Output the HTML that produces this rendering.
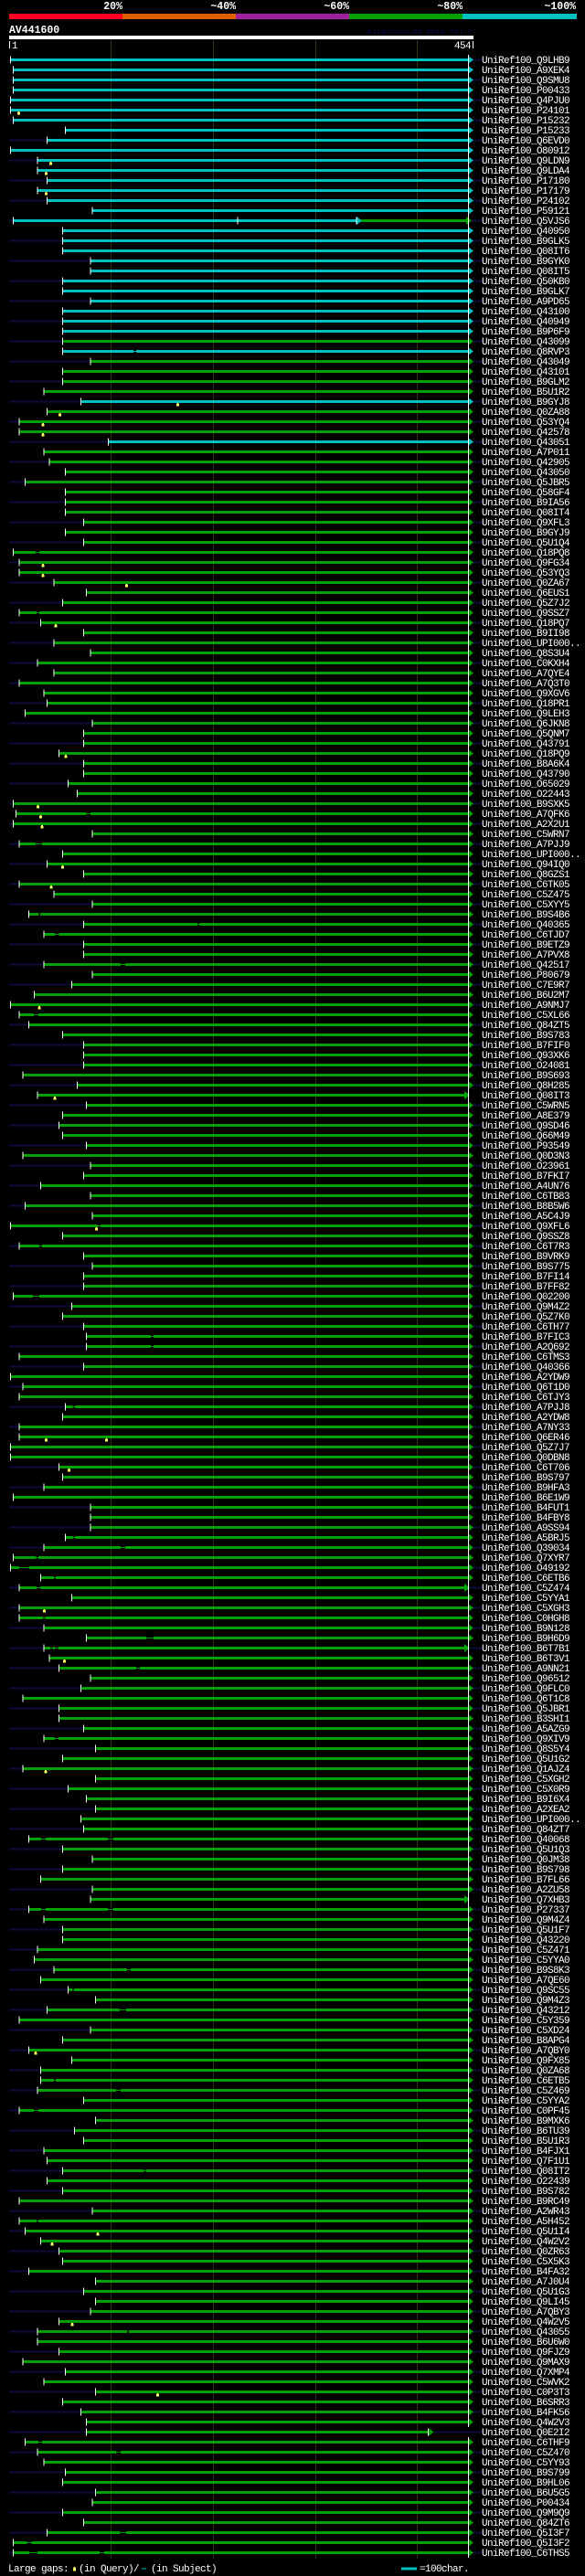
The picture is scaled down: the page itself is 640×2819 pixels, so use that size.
<!DOCTYPE html>
<html><head><meta charset="utf-8"><style>
html,body{margin:0;padding:0;background:#000;}
body{width:640px;height:2819px;overflow:hidden;}
svg{display:block;}
.c{fill:#00c0c0}.g{fill:#00a000}
.hd{font-family:"Liberation Mono",monospace;font-weight:bold;font-size:11.5px;fill:#fff}
.lb text{font-family:"Liberation Mono",monospace;font-size:11px;letter-spacing:-0.6px;fill:#fff}
.sm{font-family:"Liberation Mono",monospace;font-size:11px;letter-spacing:-0.6px;fill:#fff}
</style></head><body>
<svg width="640" height="2819" viewBox="0 0 640 2819" xmlns="http://www.w3.org/2000/svg">
<defs>
<rect id="t" x="-0.5" y="-4" width="1" height="8" fill="#fff"/>
<polygon id="ag" points="512,-4.5 518,0 512,4.5" fill="#00a000"/>
<polygon id="ac" points="512,-4.5 518,0 512,4.5" fill="#00c0c0"/>
<polygon id="as" points="508,-4.5 514,0 508,4.5" fill="#00a000"/>
<path id="y" d="M-1,2.5h3v2.5h-3zM-0.5,1.5h2v1h-2z" fill="#ffff66"/>
<pattern id="nvp" x="0" y="64.5" width="640" height="22" patternUnits="userSpaceOnUse"><rect x="0" y="0" width="640" height="2" fill="#0b0b3a"/></pattern>
</defs>
<rect width="640" height="2819" fill="#000"/>
<!-- header -->
<text class="hd" x="134" y="10" text-anchor="end">20%</text>
<text class="hd" x="258" y="10" text-anchor="end">~40%</text>
<text class="hd" x="382" y="10" text-anchor="end">~60%</text>
<text class="hd" x="506" y="10" text-anchor="end">~80%</text>
<text class="hd" x="630" y="10" text-anchor="end">~100%</text>
<rect x="10" y="15" width="124" height="6" fill="#ff0022"/>
<rect x="134" y="15" width="124" height="6" fill="#e06000"/>
<rect x="258" y="15" width="124" height="6" fill="#a020a0"/>
<rect x="382" y="15" width="124" height="6" fill="#00a000"/>
<rect x="506" y="15" width="125" height="6" fill="#00c0c0"/>
<text class="hd" x="10" y="36">AV441600</text>
<text x="402" y="37" font-family="Liberation Mono, monospace" font-size="8.3" fill="#0a0a48">AlignView.pm Beta rel.7</text>
<rect x="10" y="39" width="508" height="4" fill="#fff"/>
<rect x="10" y="45" width="1" height="8" fill="#fff"/>
<text class="sm" x="13" y="53">1</text>
<text class="sm" x="515" y="53" text-anchor="end">454</text>
<rect x="517" y="45" width="1" height="8" fill="#fff"/>
<!-- grid -->
<rect x="121" y="44" width="1" height="2756" fill="#33331a"/>
<rect x="233" y="44" width="1" height="2756" fill="#33331a"/>
<rect x="345" y="44" width="1" height="2756" fill="#33331a"/>
<rect x="456" y="44" width="1" height="2756" fill="#33331a"/>
<!-- navy stripes -->
<rect x="10" y="64.5" width="517" height="2732" fill="url(#nvp)"/>
<g class="lb">
<g transform="translate(0,65.5)"><path class="c" d="M11.5-1.5H512v3H11.5z"/><use href="#t" x="11.5"/><use href="#ac"/><text x="527" y="3.5">UniRef100_Q9LHB9</text></g>
<g transform="translate(0,76.5)"><path class="c" d="M14.5-1.5H512v3H14.5z"/><use href="#t" x="14.5"/><use href="#ac"/><text x="527" y="3.5">UniRef100_A9XEK4</text></g>
<g transform="translate(0,87.5)"><path class="c" d="M14.5-1.5H512v3H14.5z"/><use href="#t" x="14.5"/><use href="#ac"/><text x="527" y="3.5">UniRef100_Q9SMU8</text></g>
<g transform="translate(0,98.5)"><path class="c" d="M14.5-1.5H512v3H14.5z"/><use href="#t" x="14.5"/><use href="#ac"/><text x="527" y="3.5">UniRef100_P00433</text></g>
<g transform="translate(0,109.5)"><path class="c" d="M11.5-1.5H512v3H11.5z"/><use href="#t" x="11.5"/><use href="#ac"/><text x="527" y="3.5">UniRef100_Q4PJU0</text></g>
<g transform="translate(0,120.5)"><path class="c" d="M11.5-1.5H512v3H11.5z"/><use href="#t" x="11.5"/><use href="#ac"/><use href="#y" x="20"/><text x="527" y="3.5">UniRef100_P24101</text></g>
<g transform="translate(0,131.5)"><path class="c" d="M14.5-1.5H512v3H14.5z"/><use href="#t" x="14.5"/><use href="#ac"/><text x="527" y="3.5">UniRef100_P15232</text></g>
<g transform="translate(0,142.5)"><path class="c" d="M71.5-1.5H512v3H71.5z"/><use href="#t" x="71.5"/><use href="#ac"/><text x="527" y="3.5">UniRef100_P15233</text></g>
<g transform="translate(0,153.5)"><path class="c" d="M51.5-1.5H512v3H51.5z"/><use href="#t" x="51.5"/><use href="#ac"/><text x="527" y="3.5">UniRef100_Q6EVD0</text></g>
<g transform="translate(0,164.5)"><path class="c" d="M11.5-1.5H512v3H11.5z"/><use href="#t" x="11.5"/><use href="#ac"/><text x="527" y="3.5">UniRef100_O80912</text></g>
<g transform="translate(0,175.5)"><path class="c" d="M41-1.5H512v3H41z"/><use href="#t" x="41"/><use href="#ac"/><use href="#y" x="55"/><text x="527" y="3.5">UniRef100_Q9LDN9</text></g>
<g transform="translate(0,186.5)"><path class="c" d="M41-1.5H512v3H41z"/><use href="#t" x="41"/><use href="#ac"/><use href="#y" x="50"/><text x="527" y="3.5">UniRef100_Q9LDA4</text></g>
<g transform="translate(0,197.5)"><path class="c" d="M51.5-1.5H512v3H51.5z"/><use href="#t" x="51.5"/><use href="#ac"/><text x="527" y="3.5">UniRef100_P17180</text></g>
<g transform="translate(0,208.5)"><path class="c" d="M41-1.5H512v3H41z"/><use href="#t" x="41"/><use href="#ac"/><use href="#y" x="50"/><text x="527" y="3.5">UniRef100_P17179</text></g>
<g transform="translate(0,219.5)"><path class="c" d="M51.5-1.5H512v3H51.5z"/><use href="#t" x="51.5"/><use href="#ac"/><text x="527" y="3.5">UniRef100_P24102</text></g>
<g transform="translate(0,230.5)"><path class="c" d="M101-1.5H512v3H101z"/><use href="#t" x="101"/><use href="#ac"/><text x="527" y="3.5">UniRef100_P59121</text></g>
<g transform="translate(0,241.5)"><path class="c" d="M14.5-1.5H390v3H14.5z"/><path class="g" d="M395-1.5H510v3H395z"/><use href="#t" x="14.5"/><use href="#t" x="260"/><polygon points="390,-4.5 396,0 390,4.5" fill="#00c0c0"/><use href="#t" x="390"/><polygon points="510,-4.5 516,0 510,4.5" fill="#00a000"/><text x="527" y="3.5">UniRef100_Q5VJS6</text></g>
<g transform="translate(0,252.5)"><path class="c" d="M68.5-1.5H512v3H68.5z"/><use href="#t" x="68.5"/><use href="#ac"/><text x="527" y="3.5">UniRef100_Q40950</text></g>
<g transform="translate(0,263.5)"><path class="c" d="M68.5-1.5H512v3H68.5z"/><use href="#t" x="68.5"/><use href="#ac"/><text x="527" y="3.5">UniRef100_B9GLK5</text></g>
<g transform="translate(0,274.5)"><path class="c" d="M68.5-1.5H512v3H68.5z"/><use href="#t" x="68.5"/><use href="#ac"/><text x="527" y="3.5">UniRef100_Q08IT6</text></g>
<g transform="translate(0,285.5)"><path class="c" d="M99-1.5H512v3H99z"/><use href="#t" x="99"/><use href="#ac"/><text x="527" y="3.5">UniRef100_B9GYK0</text></g>
<g transform="translate(0,296.5)"><path class="c" d="M99-1.5H512v3H99z"/><use href="#t" x="99"/><use href="#ac"/><text x="527" y="3.5">UniRef100_Q08IT5</text></g>
<g transform="translate(0,307.5)"><path class="c" d="M68.5-1.5H512v3H68.5z"/><use href="#t" x="68.5"/><use href="#ac"/><text x="527" y="3.5">UniRef100_Q50KB0</text></g>
<g transform="translate(0,318.5)"><path class="c" d="M68.5-1.5H512v3H68.5z"/><use href="#t" x="68.5"/><use href="#ac"/><text x="527" y="3.5">UniRef100_B9GLK7</text></g>
<g transform="translate(0,329.5)"><path class="c" d="M99-1.5H512v3H99z"/><use href="#t" x="99"/><use href="#ac"/><text x="527" y="3.5">UniRef100_A9PD65</text></g>
<g transform="translate(0,340.5)"><path class="c" d="M68.5-1.5H512v3H68.5z"/><use href="#t" x="68.5"/><use href="#ac"/><text x="527" y="3.5">UniRef100_Q43100</text></g>
<g transform="translate(0,351.5)"><path class="c" d="M68.5-1.5H512v3H68.5z"/><use href="#t" x="68.5"/><use href="#ac"/><text x="527" y="3.5">UniRef100_Q40949</text></g>
<g transform="translate(0,362.5)"><path class="c" d="M68.5-1.5H512v3H68.5z"/><use href="#t" x="68.5"/><use href="#ac"/><text x="527" y="3.5">UniRef100_B9P6F9</text></g>
<g transform="translate(0,373.5)"><path class="g" d="M68.5-1.5H512v3H68.5z"/><use href="#t" x="68.5"/><use href="#ag"/><text x="527" y="3.5">UniRef100_Q43099</text></g>
<g transform="translate(0,384.5)"><path class="c" d="M68.5-1.5H512v3H68.5z"/><rect x="146" y="-1.5" width="3" height="3"/><rect class="c" x="146" y="-0.5" width="3" height="1"/><use href="#t" x="68.5"/><use href="#ac"/><text x="527" y="3.5">UniRef100_Q8RVP3</text></g>
<g transform="translate(0,395.5)"><path class="g" d="M99-1.5H512v3H99z"/><use href="#t" x="99"/><use href="#ag"/><text x="527" y="3.5">UniRef100_Q43049</text></g>
<g transform="translate(0,406.5)"><path class="g" d="M68.5-1.5H512v3H68.5z"/><use href="#t" x="68.5"/><use href="#ag"/><text x="527" y="3.5">UniRef100_Q43101</text></g>
<g transform="translate(0,417.5)"><path class="g" d="M68.5-1.5H512v3H68.5z"/><use href="#t" x="68.5"/><use href="#ag"/><text x="527" y="3.5">UniRef100_B9GLM2</text></g>
<g transform="translate(0,428.5)"><path class="g" d="M48-1.5H512v3H48z"/><use href="#t" x="48"/><use href="#ag"/><text x="527" y="3.5">UniRef100_B5U1R2</text></g>
<g transform="translate(0,439.5)"><path class="c" d="M88.5-1.5H512v3H88.5z"/><use href="#t" x="88.5"/><use href="#ac"/><use href="#y" x="194"/><text x="527" y="3.5">UniRef100_B9GYJ8</text></g>
<g transform="translate(0,450.5)"><path class="g" d="M51.5-1.5H512v3H51.5z"/><use href="#t" x="51.5"/><use href="#ag"/><use href="#y" x="65"/><text x="527" y="3.5">UniRef100_Q0ZA88</text></g>
<g transform="translate(0,461.5)"><path class="g" d="M21-1.5H512v3H21z"/><use href="#t" x="21"/><use href="#ag"/><use href="#y" x="46.5"/><text x="527" y="3.5">UniRef100_Q53YQ4</text></g>
<g transform="translate(0,472.5)"><path class="g" d="M21-1.5H512v3H21z"/><use href="#t" x="21"/><use href="#ag"/><use href="#y" x="46.5"/><text x="527" y="3.5">UniRef100_Q42578</text></g>
<g transform="translate(0,483.5)"><path class="c" d="M118.5-1.5H512v3H118.5z"/><use href="#t" x="118.5"/><use href="#ac"/><text x="527" y="3.5">UniRef100_Q43051</text></g>
<g transform="translate(0,494.5)"><path class="g" d="M48-1.5H512v3H48z"/><use href="#t" x="48"/><use href="#ag"/><text x="527" y="3.5">UniRef100_A7P011</text></g>
<g transform="translate(0,505.5)"><path class="g" d="M54-1.5H512v3H54z"/><use href="#t" x="54"/><use href="#ag"/><text x="527" y="3.5">UniRef100_Q42905</text></g>
<g transform="translate(0,516.5)"><path class="g" d="M71.5-1.5H512v3H71.5z"/><use href="#t" x="71.5"/><use href="#ag"/><text x="527" y="3.5">UniRef100_Q43050</text></g>
<g transform="translate(0,527.5)"><path class="g" d="M27.5-1.5H512v3H27.5z"/><use href="#t" x="27.5"/><use href="#ag"/><text x="527" y="3.5">UniRef100_Q5JBR5</text></g>
<g transform="translate(0,538.5)"><path class="g" d="M71.5-1.5H512v3H71.5z"/><use href="#t" x="71.5"/><use href="#ag"/><text x="527" y="3.5">UniRef100_Q58GF4</text></g>
<g transform="translate(0,549.5)"><path class="g" d="M71.5-1.5H512v3H71.5z"/><use href="#t" x="71.5"/><use href="#ag"/><text x="527" y="3.5">UniRef100_B9IA56</text></g>
<g transform="translate(0,560.5)"><path class="g" d="M71.5-1.5H512v3H71.5z"/><use href="#t" x="71.5"/><use href="#ag"/><text x="527" y="3.5">UniRef100_Q08IT4</text></g>
<g transform="translate(0,571.5)"><path class="g" d="M91.5-1.5H512v3H91.5z"/><use href="#t" x="91.5"/><use href="#ag"/><text x="527" y="3.5">UniRef100_Q9XFL3</text></g>
<g transform="translate(0,582.5)"><path class="g" d="M71.5-1.5H512v3H71.5z"/><use href="#t" x="71.5"/><use href="#ag"/><text x="527" y="3.5">UniRef100_B9GYJ9</text></g>
<g transform="translate(0,593.5)"><path class="g" d="M91.5-1.5H512v3H91.5z"/><use href="#t" x="91.5"/><use href="#ag"/><text x="527" y="3.5">UniRef100_Q5U1Q4</text></g>
<g transform="translate(0,604.5)"><path class="g" d="M14.5-1.5H512v3H14.5z"/><rect x="39" y="-1.5" width="4" height="3"/><rect class="g" x="39" y="-0.5" width="4" height="1"/><use href="#t" x="14.5"/><use href="#ag"/><text x="527" y="3.5">UniRef100_Q18PQ8</text></g>
<g transform="translate(0,615.5)"><path class="g" d="M21-1.5H512v3H21z"/><use href="#t" x="21"/><use href="#ag"/><use href="#y" x="46.5"/><text x="527" y="3.5">UniRef100_Q9FG34</text></g>
<g transform="translate(0,626.5)"><path class="g" d="M21-1.5H512v3H21z"/><use href="#t" x="21"/><use href="#ag"/><use href="#y" x="46.5"/><text x="527" y="3.5">UniRef100_Q53YQ3</text></g>
<g transform="translate(0,637.5)"><path class="g" d="M59-1.5H512v3H59z"/><use href="#t" x="59"/><use href="#ag"/><use href="#y" x="138"/><text x="527" y="3.5">UniRef100_Q0ZA67</text></g>
<g transform="translate(0,648.5)"><path class="g" d="M94.5-1.5H512v3H94.5z"/><use href="#t" x="94.5"/><use href="#ag"/><text x="527" y="3.5">UniRef100_Q6EUS1</text></g>
<g transform="translate(0,659.5)"><path class="g" d="M68.5-1.5H512v3H68.5z"/><use href="#t" x="68.5"/><use href="#ag"/><text x="527" y="3.5">UniRef100_Q5Z7J2</text></g>
<g transform="translate(0,670.5)"><path class="g" d="M21-1.5H512v3H21z"/><rect x="40" y="-1.5" width="3" height="3"/><rect class="g" x="40" y="-0.5" width="3" height="1"/><use href="#t" x="21"/><use href="#ag"/><text x="527" y="3.5">UniRef100_Q9SSZ7</text></g>
<g transform="translate(0,681.5)"><path class="g" d="M44.5-1.5H512v3H44.5z"/><use href="#t" x="44.5"/><use href="#ag"/><use href="#y" x="60.5"/><text x="527" y="3.5">UniRef100_Q18PQ7</text></g>
<g transform="translate(0,692.5)"><path class="g" d="M91.5-1.5H512v3H91.5z"/><use href="#t" x="91.5"/><use href="#ag"/><text x="527" y="3.5">UniRef100_B9II98</text></g>
<g transform="translate(0,703.5)"><path class="g" d="M59-1.5H512v3H59z"/><use href="#t" x="59"/><use href="#ag"/><text x="527" y="3.5">UniRef100_UPI000..</text></g>
<g transform="translate(0,714.5)"><path class="g" d="M99-1.5H512v3H99z"/><use href="#t" x="99"/><use href="#ag"/><text x="527" y="3.5">UniRef100_Q8S3U4</text></g>
<g transform="translate(0,725.5)"><path class="g" d="M41-1.5H512v3H41z"/><use href="#t" x="41"/><use href="#ag"/><text x="527" y="3.5">UniRef100_C0KXH4</text></g>
<g transform="translate(0,736.5)"><path class="g" d="M59-1.5H512v3H59z"/><use href="#t" x="59"/><use href="#ag"/><text x="527" y="3.5">UniRef100_A7QYE4</text></g>
<g transform="translate(0,747.5)"><path class="g" d="M21-1.5H512v3H21z"/><use href="#t" x="21"/><use href="#ag"/><text x="527" y="3.5">UniRef100_A7Q3T0</text></g>
<g transform="translate(0,758.5)"><path class="g" d="M48-1.5H512v3H48z"/><use href="#t" x="48"/><use href="#ag"/><text x="527" y="3.5">UniRef100_Q9XGV6</text></g>
<g transform="translate(0,769.5)"><path class="g" d="M51.5-1.5H512v3H51.5z"/><use href="#t" x="51.5"/><use href="#ag"/><text x="527" y="3.5">UniRef100_Q18PR1</text></g>
<g transform="translate(0,780.5)"><path class="g" d="M27.5-1.5H512v3H27.5z"/><use href="#t" x="27.5"/><use href="#ag"/><text x="527" y="3.5">UniRef100_Q9LEH3</text></g>
<g transform="translate(0,791.5)"><path class="g" d="M101-1.5H512v3H101z"/><use href="#t" x="101"/><use href="#ag"/><text x="527" y="3.5">UniRef100_Q6JKN8</text></g>
<g transform="translate(0,802.5)"><path class="g" d="M91.5-1.5H512v3H91.5z"/><use href="#t" x="91.5"/><use href="#ag"/><text x="527" y="3.5">UniRef100_Q5QNM7</text></g>
<g transform="translate(0,813.5)"><path class="g" d="M91.5-1.5H512v3H91.5z"/><use href="#t" x="91.5"/><use href="#ag"/><text x="527" y="3.5">UniRef100_Q43791</text></g>
<g transform="translate(0,824.5)"><path class="g" d="M64.5-1.5H512v3H64.5z"/><use href="#t" x="64.5"/><use href="#ag"/><use href="#y" x="71.5"/><text x="527" y="3.5">UniRef100_Q18PQ9</text></g>
<g transform="translate(0,835.5)"><path class="g" d="M91.5-1.5H512v3H91.5z"/><use href="#t" x="91.5"/><use href="#ag"/><text x="527" y="3.5">UniRef100_B8A6K4</text></g>
<g transform="translate(0,846.5)"><path class="g" d="M91.5-1.5H512v3H91.5z"/><use href="#t" x="91.5"/><use href="#ag"/><text x="527" y="3.5">UniRef100_Q43790</text></g>
<g transform="translate(0,857.5)"><path class="g" d="M74.5-1.5H512v3H74.5z"/><use href="#t" x="74.5"/><use href="#ag"/><text x="527" y="3.5">UniRef100_O65029</text></g>
<g transform="translate(0,868.5)"><path class="g" d="M84.5-1.5H512v3H84.5z"/><use href="#t" x="84.5"/><use href="#ag"/><text x="527" y="3.5">UniRef100_O22443</text></g>
<g transform="translate(0,879.5)"><path class="g" d="M14.5-1.5H512v3H14.5z"/><use href="#t" x="14.5"/><use href="#ag"/><use href="#y" x="41"/><text x="527" y="3.5">UniRef100_B9SXK5</text></g>
<g transform="translate(0,890.5)"><path class="g" d="M17.5-1.5H512v3H17.5z"/><rect x="94.5" y="-1.5" width="4.5" height="3"/><rect class="g" x="94.5" y="-0.5" width="4.5" height="1"/><use href="#t" x="17.5"/><use href="#ag"/><use href="#y" x="44"/><text x="527" y="3.5">UniRef100_A7QFK6</text></g>
<g transform="translate(0,901.5)"><path class="g" d="M14.5-1.5H512v3H14.5z"/><use href="#t" x="14.5"/><use href="#ag"/><use href="#y" x="45.5"/><text x="527" y="3.5">UniRef100_A2X2U1</text></g>
<g transform="translate(0,912.5)"><path class="g" d="M101-1.5H512v3H101z"/><use href="#t" x="101"/><use href="#ag"/><text x="527" y="3.5">UniRef100_C5WRN7</text></g>
<g transform="translate(0,923.5)"><path class="g" d="M21-1.5H512v3H21z"/><rect x="39" y="-1.5" width="7" height="3"/><rect class="g" x="39" y="-0.5" width="7" height="1"/><use href="#t" x="21"/><use href="#ag"/><text x="527" y="3.5">UniRef100_A7PJJ9</text></g>
<g transform="translate(0,934.5)"><path class="g" d="M68.5-1.5H512v3H68.5z"/><use href="#t" x="68.5"/><use href="#ag"/><text x="527" y="3.5">UniRef100_UPI000..</text></g>
<g transform="translate(0,945.5)"><path class="g" d="M51.5-1.5H512v3H51.5z"/><use href="#t" x="51.5"/><use href="#ag"/><use href="#y" x="68"/><text x="527" y="3.5">UniRef100_Q94IQ0</text></g>
<g transform="translate(0,956.5)"><path class="g" d="M91.5-1.5H512v3H91.5z"/><use href="#t" x="91.5"/><use href="#ag"/><text x="527" y="3.5">UniRef100_Q8GZS1</text></g>
<g transform="translate(0,967.5)"><path class="g" d="M21-1.5H512v3H21z"/><use href="#t" x="21"/><use href="#ag"/><use href="#y" x="55.5"/><text x="527" y="3.5">UniRef100_C6TK05</text></g>
<g transform="translate(0,978.5)"><path class="g" d="M59-1.5H512v3H59z"/><use href="#t" x="59"/><use href="#ag"/><text x="527" y="3.5">UniRef100_C5Z475</text></g>
<g transform="translate(0,989.5)"><path class="g" d="M101-1.5H512v3H101z"/><use href="#t" x="101"/><use href="#ag"/><text x="527" y="3.5">UniRef100_C5XYY5</text></g>
<g transform="translate(0,1000.5)"><path class="g" d="M31.5-1.5H512v3H31.5z"/><rect x="42.5" y="-1.5" width="1.5" height="3"/><use href="#t" x="31.5"/><use href="#ag"/><text x="527" y="3.5">UniRef100_B9S4B6</text></g>
<g transform="translate(0,1011.5)"><path class="g" d="M91.5-1.5H512v3H91.5z"/><rect x="216" y="-1.5" width="2" height="3"/><rect class="g" x="216" y="-0.5" width="2" height="1"/><use href="#t" x="91.5"/><use href="#ag"/><text x="527" y="3.5">UniRef100_Q40365</text></g>
<g transform="translate(0,1022.5)"><path class="g" d="M48-1.5H512v3H48z"/><rect x="60.5" y="-1.5" width="4" height="3"/><rect class="g" x="60.5" y="-0.5" width="4" height="1"/><use href="#t" x="48"/><use href="#ag"/><text x="527" y="3.5">UniRef100_C6TJD7</text></g>
<g transform="translate(0,1033.5)"><path class="g" d="M91.5-1.5H512v3H91.5z"/><use href="#t" x="91.5"/><use href="#ag"/><text x="527" y="3.5">UniRef100_B9ETZ9</text></g>
<g transform="translate(0,1044.5)"><path class="g" d="M91.5-1.5H512v3H91.5z"/><use href="#t" x="91.5"/><use href="#ag"/><text x="527" y="3.5">UniRef100_A7PVX8</text></g>
<g transform="translate(0,1055.5)"><path class="g" d="M48-1.5H512v3H48z"/><rect x="132" y="-1.5" width="5" height="3"/><rect class="g" x="132" y="-0.5" width="5" height="1"/><use href="#t" x="48"/><use href="#ag"/><text x="527" y="3.5">UniRef100_Q42517</text></g>
<g transform="translate(0,1066.5)"><path class="g" d="M101-1.5H512v3H101z"/><use href="#t" x="101"/><use href="#ag"/><text x="527" y="3.5">UniRef100_P80679</text></g>
<g transform="translate(0,1077.5)"><path class="g" d="M78.5-1.5H512v3H78.5z"/><use href="#t" x="78.5"/><use href="#ag"/><text x="527" y="3.5">UniRef100_C7E9R7</text></g>
<g transform="translate(0,1088.5)"><path class="g" d="M37.5-1.5H512v3H37.5z"/><use href="#t" x="37.5"/><use href="#ag"/><text x="527" y="3.5">UniRef100_B6U2M7</text></g>
<g transform="translate(0,1099.5)"><path class="g" d="M11.5-1.5H512v3H11.5z"/><use href="#t" x="11.5"/><use href="#ag"/><use href="#y" x="42.5"/><text x="527" y="3.5">UniRef100_A9NMJ7</text></g>
<g transform="translate(0,1110.5)"><path class="g" d="M21-1.5H512v3H21z"/><rect x="37" y="-1.5" width="5" height="3"/><rect class="g" x="37" y="-0.5" width="5" height="1"/><use href="#t" x="21"/><use href="#ag"/><text x="527" y="3.5">UniRef100_C5XL66</text></g>
<g transform="translate(0,1121.5)"><path class="g" d="M31.5-1.5H512v3H31.5z"/><use href="#t" x="31.5"/><use href="#ag"/><text x="527" y="3.5">UniRef100_Q84ZT5</text></g>
<g transform="translate(0,1132.5)"><path class="g" d="M68.5-1.5H512v3H68.5z"/><use href="#t" x="68.5"/><use href="#ag"/><text x="527" y="3.5">UniRef100_B9S783</text></g>
<g transform="translate(0,1143.5)"><path class="g" d="M91.5-1.5H512v3H91.5z"/><use href="#t" x="91.5"/><use href="#ag"/><text x="527" y="3.5">UniRef100_B7FIF0</text></g>
<g transform="translate(0,1154.5)"><path class="g" d="M91.5-1.5H512v3H91.5z"/><use href="#t" x="91.5"/><use href="#ag"/><text x="527" y="3.5">UniRef100_Q93XK6</text></g>
<g transform="translate(0,1165.5)"><path class="g" d="M91.5-1.5H512v3H91.5z"/><use href="#t" x="91.5"/><use href="#ag"/><text x="527" y="3.5">UniRef100_O24081</text></g>
<g transform="translate(0,1176.5)"><path class="g" d="M25-1.5H512v3H25z"/><use href="#t" x="25"/><use href="#ag"/><text x="527" y="3.5">UniRef100_B9S693</text></g>
<g transform="translate(0,1187.5)"><path class="g" d="M84.5-1.5H512v3H84.5z"/><use href="#t" x="84.5"/><use href="#ag"/><text x="527" y="3.5">UniRef100_Q8H285</text></g>
<g transform="translate(0,1198.5)"><path class="g" d="M41-1.5H508v3H41z"/><use href="#t" x="41"/><use href="#as"/><use href="#y" x="59.5"/><text x="527" y="3.5">UniRef100_Q08IT3</text></g>
<g transform="translate(0,1209.5)"><path class="g" d="M94.5-1.5H512v3H94.5z"/><use href="#t" x="94.5"/><use href="#ag"/><text x="527" y="3.5">UniRef100_C5WRN5</text></g>
<g transform="translate(0,1220.5)"><path class="g" d="M68.5-1.5H512v3H68.5z"/><use href="#t" x="68.5"/><use href="#ag"/><text x="527" y="3.5">UniRef100_A8E379</text></g>
<g transform="translate(0,1231.5)"><path class="g" d="M64.5-1.5H512v3H64.5z"/><use href="#t" x="64.5"/><use href="#ag"/><text x="527" y="3.5">UniRef100_Q9SD46</text></g>
<g transform="translate(0,1242.5)"><path class="g" d="M68.5-1.5H512v3H68.5z"/><use href="#t" x="68.5"/><use href="#ag"/><text x="527" y="3.5">UniRef100_Q66M49</text></g>
<g transform="translate(0,1253.5)"><path class="g" d="M94.5-1.5H512v3H94.5z"/><use href="#t" x="94.5"/><use href="#ag"/><text x="527" y="3.5">UniRef100_P93549</text></g>
<g transform="translate(0,1264.5)"><path class="g" d="M25-1.5H512v3H25z"/><use href="#t" x="25"/><use href="#ag"/><text x="527" y="3.5">UniRef100_Q0D3N3</text></g>
<g transform="translate(0,1275.5)"><path class="g" d="M99-1.5H512v3H99z"/><use href="#t" x="99"/><use href="#ag"/><text x="527" y="3.5">UniRef100_O23961</text></g>
<g transform="translate(0,1286.5)"><path class="g" d="M91.5-1.5H512v3H91.5z"/><use href="#t" x="91.5"/><use href="#ag"/><text x="527" y="3.5">UniRef100_B7FKI7</text></g>
<g transform="translate(0,1297.5)"><path class="g" d="M44.5-1.5H512v3H44.5z"/><use href="#t" x="44.5"/><use href="#ag"/><text x="527" y="3.5">UniRef100_A4UN76</text></g>
<g transform="translate(0,1308.5)"><path class="g" d="M99-1.5H512v3H99z"/><use href="#t" x="99"/><use href="#ag"/><text x="527" y="3.5">UniRef100_C6TB83</text></g>
<g transform="translate(0,1319.5)"><path class="g" d="M27.5-1.5H512v3H27.5z"/><use href="#t" x="27.5"/><use href="#ag"/><text x="527" y="3.5">UniRef100_B8B5W6</text></g>
<g transform="translate(0,1330.5)"><path class="g" d="M101-1.5H512v3H101z"/><use href="#t" x="101"/><use href="#ag"/><text x="527" y="3.5">UniRef100_A5C4J9</text></g>
<g transform="translate(0,1341.5)"><path class="g" d="M11.5-1.5H512v3H11.5z"/><rect x="107" y="-1.5" width="3" height="3"/><rect class="g" x="107" y="-0.5" width="3" height="1"/><use href="#t" x="11.5"/><use href="#ag"/><use href="#y" x="105"/><text x="527" y="3.5">UniRef100_Q9XFL6</text></g>
<g transform="translate(0,1352.5)"><path class="g" d="M68.5-1.5H512v3H68.5z"/><use href="#t" x="68.5"/><use href="#ag"/><text x="527" y="3.5">UniRef100_Q9SSZ8</text></g>
<g transform="translate(0,1363.5)"><path class="g" d="M21-1.5H512v3H21z"/><rect x="43" y="-1.5" width="3" height="3"/><rect class="g" x="43" y="-0.5" width="3" height="1"/><use href="#t" x="21"/><use href="#ag"/><text x="527" y="3.5">UniRef100_C6T7R3</text></g>
<g transform="translate(0,1374.5)"><path class="g" d="M91.5-1.5H512v3H91.5z"/><use href="#t" x="91.5"/><use href="#ag"/><text x="527" y="3.5">UniRef100_B9VRK9</text></g>
<g transform="translate(0,1385.5)"><path class="g" d="M101-1.5H512v3H101z"/><use href="#t" x="101"/><use href="#ag"/><text x="527" y="3.5">UniRef100_B9S775</text></g>
<g transform="translate(0,1396.5)"><path class="g" d="M91.5-1.5H512v3H91.5z"/><use href="#t" x="91.5"/><use href="#ag"/><text x="527" y="3.5">UniRef100_B7FI14</text></g>
<g transform="translate(0,1407.5)"><path class="g" d="M91.5-1.5H512v3H91.5z"/><use href="#t" x="91.5"/><use href="#ag"/><text x="527" y="3.5">UniRef100_B7FF82</text></g>
<g transform="translate(0,1418.5)"><path class="g" d="M14.5-1.5H512v3H14.5z"/><rect x="36" y="-1.5" width="7" height="3"/><rect class="g" x="36" y="-0.5" width="7" height="1"/><use href="#t" x="14.5"/><use href="#ag"/><text x="527" y="3.5">UniRef100_Q02200</text></g>
<g transform="translate(0,1429.5)"><path class="g" d="M78.5-1.5H512v3H78.5z"/><use href="#t" x="78.5"/><use href="#ag"/><text x="527" y="3.5">UniRef100_Q9M4Z2</text></g>
<g transform="translate(0,1440.5)"><path class="g" d="M68.5-1.5H512v3H68.5z"/><use href="#t" x="68.5"/><use href="#ag"/><text x="527" y="3.5">UniRef100_Q5Z7K0</text></g>
<g transform="translate(0,1451.5)"><path class="g" d="M91.5-1.5H512v3H91.5z"/><use href="#t" x="91.5"/><use href="#ag"/><text x="527" y="3.5">UniRef100_C6TH77</text></g>
<g transform="translate(0,1462.5)"><path class="g" d="M94.5-1.5H512v3H94.5z"/><rect x="165" y="-1.5" width="3" height="3"/><rect class="g" x="165" y="-0.5" width="3" height="1"/><use href="#t" x="94.5"/><use href="#ag"/><text x="527" y="3.5">UniRef100_B7FIC3</text></g>
<g transform="translate(0,1473.5)"><path class="g" d="M94.5-1.5H512v3H94.5z"/><rect x="165" y="-1.5" width="3" height="3"/><rect class="g" x="165" y="-0.5" width="3" height="1"/><use href="#t" x="94.5"/><use href="#ag"/><text x="527" y="3.5">UniRef100_A2Q692</text></g>
<g transform="translate(0,1484.5)"><path class="g" d="M21-1.5H512v3H21z"/><use href="#t" x="21"/><use href="#ag"/><text x="527" y="3.5">UniRef100_C6TMS3</text></g>
<g transform="translate(0,1495.5)"><path class="g" d="M91.5-1.5H512v3H91.5z"/><use href="#t" x="91.5"/><use href="#ag"/><text x="527" y="3.5">UniRef100_Q40366</text></g>
<g transform="translate(0,1506.5)"><path class="g" d="M11.5-1.5H512v3H11.5z"/><use href="#t" x="11.5"/><use href="#ag"/><text x="527" y="3.5">UniRef100_A2YDW9</text></g>
<g transform="translate(0,1517.5)"><path class="g" d="M25-1.5H512v3H25z"/><use href="#t" x="25"/><use href="#ag"/><text x="527" y="3.5">UniRef100_Q6T1D0</text></g>
<g transform="translate(0,1528.5)"><path class="g" d="M21-1.5H512v3H21z"/><use href="#t" x="21"/><use href="#ag"/><text x="527" y="3.5">UniRef100_C6TJY3</text></g>
<g transform="translate(0,1539.5)"><path class="g" d="M71.5-1.5H512v3H71.5z"/><rect x="79.5" y="-1.5" width="2.5" height="3"/><rect class="g" x="79.5" y="-0.5" width="2.5" height="1"/><use href="#t" x="71.5"/><use href="#ag"/><text x="527" y="3.5">UniRef100_A7PJJ8</text></g>
<g transform="translate(0,1550.5)"><path class="g" d="M68.5-1.5H512v3H68.5z"/><use href="#t" x="68.5"/><use href="#ag"/><text x="527" y="3.5">UniRef100_A2YDW8</text></g>
<g transform="translate(0,1561.5)"><path class="g" d="M21-1.5H512v3H21z"/><use href="#t" x="21"/><use href="#ag"/><text x="527" y="3.5">UniRef100_A7NY33</text></g>
<g transform="translate(0,1572.5)"><path class="g" d="M21-1.5H512v3H21z"/><use href="#t" x="21"/><use href="#ag"/><use href="#y" x="50"/><use href="#y" x="116"/><text x="527" y="3.5">UniRef100_Q6ER46</text></g>
<g transform="translate(0,1583.5)"><path class="g" d="M11.5-1.5H512v3H11.5z"/><use href="#t" x="11.5"/><use href="#ag"/><text x="527" y="3.5">UniRef100_Q5Z7J7</text></g>
<g transform="translate(0,1594.5)"><path class="g" d="M11.5-1.5H512v3H11.5z"/><use href="#t" x="11.5"/><use href="#ag"/><text x="527" y="3.5">UniRef100_Q0DBN8</text></g>
<g transform="translate(0,1605.5)"><path class="g" d="M64.5-1.5H512v3H64.5z"/><use href="#t" x="64.5"/><use href="#ag"/><use href="#y" x="75"/><text x="527" y="3.5">UniRef100_C6T706</text></g>
<g transform="translate(0,1616.5)"><path class="g" d="M68.5-1.5H512v3H68.5z"/><use href="#t" x="68.5"/><use href="#ag"/><text x="527" y="3.5">UniRef100_B9S797</text></g>
<g transform="translate(0,1627.5)"><path class="g" d="M48-1.5H512v3H48z"/><use href="#t" x="48"/><use href="#ag"/><text x="527" y="3.5">UniRef100_B9HFA3</text></g>
<g transform="translate(0,1638.5)"><path class="g" d="M14.5-1.5H512v3H14.5z"/><use href="#t" x="14.5"/><use href="#ag"/><text x="527" y="3.5">UniRef100_B6E1W9</text></g>
<g transform="translate(0,1649.5)"><path class="g" d="M99-1.5H512v3H99z"/><use href="#t" x="99"/><use href="#ag"/><text x="527" y="3.5">UniRef100_B4FUT1</text></g>
<g transform="translate(0,1660.5)"><path class="g" d="M99-1.5H512v3H99z"/><use href="#t" x="99"/><use href="#ag"/><text x="527" y="3.5">UniRef100_B4FBY8</text></g>
<g transform="translate(0,1671.5)"><path class="g" d="M99-1.5H512v3H99z"/><use href="#t" x="99"/><use href="#ag"/><text x="527" y="3.5">UniRef100_A9SS94</text></g>
<g transform="translate(0,1682.5)"><path class="g" d="M71.5-1.5H512v3H71.5z"/><rect x="80" y="-1.5" width="2" height="3"/><rect class="g" x="80" y="-0.5" width="2" height="1"/><use href="#t" x="71.5"/><use href="#ag"/><text x="527" y="3.5">UniRef100_A5BRJ5</text></g>
<g transform="translate(0,1693.5)"><path class="g" d="M48-1.5H512v3H48z"/><rect x="132" y="-1.5" width="5" height="3"/><rect class="g" x="132" y="-0.5" width="5" height="1"/><use href="#t" x="48"/><use href="#ag"/><text x="527" y="3.5">UniRef100_Q39034</text></g>
<g transform="translate(0,1704.5)"><path class="g" d="M14.5-1.5H512v3H14.5z"/><rect x="39.5" y="-1.5" width="2.5" height="3"/><rect class="g" x="39.5" y="-0.5" width="2.5" height="1"/><use href="#t" x="14.5"/><use href="#ag"/><text x="527" y="3.5">UniRef100_Q7XYR7</text></g>
<g transform="translate(0,1715.5)"><path class="g" d="M11.5-1.5H512v3H11.5z"/><rect x="21" y="-1.5" width="11" height="3"/><rect class="g" x="21" y="-0.5" width="11" height="1"/><use href="#t" x="11.5"/><use href="#ag"/><text x="527" y="3.5">UniRef100_O49192</text></g>
<g transform="translate(0,1726.5)"><path class="g" d="M44.5-1.5H512v3H44.5z"/><rect x="59" y="-1.5" width="2" height="3"/><rect class="g" x="59" y="-0.5" width="2" height="1"/><use href="#t" x="44.5"/><use href="#ag"/><text x="527" y="3.5">UniRef100_C6ETB6</text></g>
<g transform="translate(0,1737.5)"><path class="g" d="M21-1.5H508v3H21z"/><rect x="40" y="-1.5" width="4" height="3"/><rect class="g" x="40" y="-0.5" width="4" height="1"/><use href="#t" x="21"/><use href="#as"/><text x="527" y="3.5">UniRef100_C5Z474</text></g>
<g transform="translate(0,1748.5)"><path class="g" d="M78.5-1.5H512v3H78.5z"/><use href="#t" x="78.5"/><use href="#ag"/><text x="527" y="3.5">UniRef100_C5YYA1</text></g>
<g transform="translate(0,1759.5)"><path class="g" d="M21-1.5H512v3H21z"/><use href="#t" x="21"/><use href="#ag"/><use href="#y" x="48"/><text x="527" y="3.5">UniRef100_C5XGH3</text></g>
<g transform="translate(0,1770.5)"><path class="g" d="M21-1.5H512v3H21z"/><rect x="47" y="-1.5" width="2.5" height="3"/><rect class="g" x="47" y="-0.5" width="2.5" height="1"/><use href="#t" x="21"/><use href="#ag"/><text x="527" y="3.5">UniRef100_C0HGH8</text></g>
<g transform="translate(0,1781.5)"><path class="g" d="M48-1.5H512v3H48z"/><use href="#t" x="48"/><use href="#ag"/><text x="527" y="3.5">UniRef100_B9N128</text></g>
<g transform="translate(0,1792.5)"><path class="g" d="M94.5-1.5H512v3H94.5z"/><rect x="160" y="-1.5" width="8" height="3"/><rect class="g" x="160" y="-0.5" width="8" height="1"/><use href="#t" x="94.5"/><use href="#ag"/><text x="527" y="3.5">UniRef100_B9H6D9</text></g>
<g transform="translate(0,1803.5)"><path class="g" d="M48-1.5H508v3H48z"/><rect x="55" y="-1.5" width="3" height="3"/><rect class="g" x="55" y="-0.5" width="3" height="1"/><rect x="60" y="-1.5" width="4" height="3"/><rect class="g" x="60" y="-0.5" width="4" height="1"/><use href="#t" x="48"/><use href="#as"/><text x="527" y="3.5">UniRef100_B6T7B1</text></g>
<g transform="translate(0,1814.5)"><path class="g" d="M54-1.5H512v3H54z"/><use href="#t" x="54"/><use href="#ag"/><use href="#y" x="70"/><text x="527" y="3.5">UniRef100_B6T3V1</text></g>
<g transform="translate(0,1825.5)"><path class="g" d="M64.5-1.5H512v3H64.5z"/><rect x="149" y="-1.5" width="4" height="3"/><rect class="g" x="149" y="-0.5" width="4" height="1"/><use href="#t" x="64.5"/><use href="#ag"/><text x="527" y="3.5">UniRef100_A9NN21</text></g>
<g transform="translate(0,1836.5)"><path class="g" d="M99-1.5H512v3H99z"/><use href="#t" x="99"/><use href="#ag"/><text x="527" y="3.5">UniRef100_Q96512</text></g>
<g transform="translate(0,1847.5)"><path class="g" d="M88.5-1.5H512v3H88.5z"/><use href="#t" x="88.5"/><use href="#ag"/><text x="527" y="3.5">UniRef100_Q9FLC0</text></g>
<g transform="translate(0,1858.5)"><path class="g" d="M25-1.5H512v3H25z"/><use href="#t" x="25"/><use href="#ag"/><text x="527" y="3.5">UniRef100_Q6T1C8</text></g>
<g transform="translate(0,1869.5)"><path class="g" d="M64.5-1.5H512v3H64.5z"/><use href="#t" x="64.5"/><use href="#ag"/><text x="527" y="3.5">UniRef100_Q5JBR1</text></g>
<g transform="translate(0,1880.5)"><path class="g" d="M64.5-1.5H512v3H64.5z"/><use href="#t" x="64.5"/><use href="#ag"/><text x="527" y="3.5">UniRef100_B3SHI1</text></g>
<g transform="translate(0,1891.5)"><path class="g" d="M91.5-1.5H512v3H91.5z"/><use href="#t" x="91.5"/><use href="#ag"/><text x="527" y="3.5">UniRef100_A5AZG9</text></g>
<g transform="translate(0,1902.5)"><path class="g" d="M48-1.5H512v3H48z"/><rect x="60" y="-1.5" width="4" height="3"/><rect class="g" x="60" y="-0.5" width="4" height="1"/><use href="#t" x="48"/><use href="#ag"/><text x="527" y="3.5">UniRef100_Q9XIV9</text></g>
<g transform="translate(0,1913.5)"><path class="g" d="M104.5-1.5H512v3H104.5z"/><use href="#t" x="104.5"/><use href="#ag"/><text x="527" y="3.5">UniRef100_Q8S5Y4</text></g>
<g transform="translate(0,1924.5)"><path class="g" d="M68.5-1.5H512v3H68.5z"/><use href="#t" x="68.5"/><use href="#ag"/><text x="527" y="3.5">UniRef100_Q5U1G2</text></g>
<g transform="translate(0,1935.5)"><path class="g" d="M25-1.5H512v3H25z"/><use href="#t" x="25"/><use href="#ag"/><use href="#y" x="49.5"/><text x="527" y="3.5">UniRef100_Q1AJZ4</text></g>
<g transform="translate(0,1946.5)"><path class="g" d="M104.5-1.5H512v3H104.5z"/><use href="#t" x="104.5"/><use href="#ag"/><text x="527" y="3.5">UniRef100_C5XGH2</text></g>
<g transform="translate(0,1957.5)"><path class="g" d="M74.5-1.5H512v3H74.5z"/><use href="#t" x="74.5"/><use href="#ag"/><text x="527" y="3.5">UniRef100_C5X0R9</text></g>
<g transform="translate(0,1968.5)"><path class="g" d="M94.5-1.5H512v3H94.5z"/><use href="#t" x="94.5"/><use href="#ag"/><text x="527" y="3.5">UniRef100_B9I6X4</text></g>
<g transform="translate(0,1979.5)"><path class="g" d="M104.5-1.5H512v3H104.5z"/><use href="#t" x="104.5"/><use href="#ag"/><text x="527" y="3.5">UniRef100_A2XEA2</text></g>
<g transform="translate(0,1990.5)"><path class="g" d="M88.5-1.5H512v3H88.5z"/><use href="#t" x="88.5"/><use href="#ag"/><text x="527" y="3.5">UniRef100_UPI000..</text></g>
<g transform="translate(0,2001.5)"><path class="g" d="M91.5-1.5H512v3H91.5z"/><use href="#t" x="91.5"/><use href="#ag"/><text x="527" y="3.5">UniRef100_Q84ZT7</text></g>
<g transform="translate(0,2012.5)"><path class="g" d="M31.5-1.5H512v3H31.5z"/><rect x="45" y="-1.5" width="5" height="3"/><rect class="g" x="45" y="-0.5" width="5" height="1"/><rect x="118" y="-1.5" width="6" height="3"/><rect class="g" x="118" y="-0.5" width="6" height="1"/><use href="#t" x="31.5"/><use href="#ag"/><text x="527" y="3.5">UniRef100_Q40068</text></g>
<g transform="translate(0,2023.5)"><path class="g" d="M68.5-1.5H512v3H68.5z"/><use href="#t" x="68.5"/><use href="#ag"/><text x="527" y="3.5">UniRef100_Q5U1Q3</text></g>
<g transform="translate(0,2034.5)"><path class="g" d="M101-1.5H512v3H101z"/><use href="#t" x="101"/><use href="#ag"/><text x="527" y="3.5">UniRef100_Q0JM38</text></g>
<g transform="translate(0,2045.5)"><path class="g" d="M68.5-1.5H512v3H68.5z"/><use href="#t" x="68.5"/><use href="#ag"/><text x="527" y="3.5">UniRef100_B9S798</text></g>
<g transform="translate(0,2056.5)"><path class="g" d="M44.5-1.5H512v3H44.5z"/><use href="#t" x="44.5"/><use href="#ag"/><text x="527" y="3.5">UniRef100_B7FL66</text></g>
<g transform="translate(0,2067.5)"><path class="g" d="M101-1.5H512v3H101z"/><use href="#t" x="101"/><use href="#ag"/><text x="527" y="3.5">UniRef100_A2ZU58</text></g>
<g transform="translate(0,2078.5)"><path class="g" d="M99-1.5H508v3H99z"/><use href="#t" x="99"/><use href="#as"/><text x="527" y="3.5">UniRef100_Q7XHB3</text></g>
<g transform="translate(0,2089.5)"><path class="g" d="M31.5-1.5H512v3H31.5z"/><rect x="45" y="-1.5" width="5" height="3"/><rect class="g" x="45" y="-0.5" width="5" height="1"/><rect x="118" y="-1.5" width="6" height="3"/><rect class="g" x="118" y="-0.5" width="6" height="1"/><use href="#t" x="31.5"/><use href="#ag"/><text x="527" y="3.5">UniRef100_P27337</text></g>
<g transform="translate(0,2100.5)"><path class="g" d="M48-1.5H512v3H48z"/><use href="#t" x="48"/><use href="#ag"/><text x="527" y="3.5">UniRef100_Q9M4Z4</text></g>
<g transform="translate(0,2111.5)"><path class="g" d="M68.5-1.5H512v3H68.5z"/><use href="#t" x="68.5"/><use href="#ag"/><text x="527" y="3.5">UniRef100_Q5U1F7</text></g>
<g transform="translate(0,2122.5)"><path class="g" d="M68.5-1.5H512v3H68.5z"/><use href="#t" x="68.5"/><use href="#ag"/><text x="527" y="3.5">UniRef100_Q43220</text></g>
<g transform="translate(0,2133.5)"><path class="g" d="M41-1.5H512v3H41z"/><use href="#t" x="41"/><use href="#ag"/><text x="527" y="3.5">UniRef100_C5Z471</text></g>
<g transform="translate(0,2144.5)"><path class="g" d="M37.5-1.5H512v3H37.5z"/><use href="#t" x="37.5"/><use href="#ag"/><text x="527" y="3.5">UniRef100_C5YYA0</text></g>
<g transform="translate(0,2155.5)"><path class="g" d="M59-1.5H512v3H59z"/><rect x="139" y="-1.5" width="4" height="3"/><rect class="g" x="139" y="-0.5" width="4" height="1"/><use href="#t" x="59"/><use href="#ag"/><text x="527" y="3.5">UniRef100_B9S8K3</text></g>
<g transform="translate(0,2166.5)"><path class="g" d="M44.5-1.5H512v3H44.5z"/><use href="#t" x="44.5"/><use href="#ag"/><text x="527" y="3.5">UniRef100_A7QE60</text></g>
<g transform="translate(0,2177.5)"><path class="g" d="M74.5-1.5H512v3H74.5z"/><rect x="79" y="-1.5" width="2" height="3"/><rect class="g" x="79" y="-0.5" width="2" height="1"/><use href="#t" x="74.5"/><use href="#ag"/><text x="527" y="3.5">UniRef100_Q9SC55</text></g>
<g transform="translate(0,2188.5)"><path class="g" d="M104.5-1.5H512v3H104.5z"/><use href="#t" x="104.5"/><use href="#ag"/><text x="527" y="3.5">UniRef100_Q9M4Z3</text></g>
<g transform="translate(0,2199.5)"><path class="g" d="M51.5-1.5H512v3H51.5z"/><rect x="131" y="-1.5" width="7" height="3"/><rect class="g" x="131" y="-0.5" width="7" height="1"/><use href="#t" x="51.5"/><use href="#ag"/><text x="527" y="3.5">UniRef100_Q43212</text></g>
<g transform="translate(0,2210.5)"><path class="g" d="M21-1.5H512v3H21z"/><use href="#t" x="21"/><use href="#ag"/><text x="527" y="3.5">UniRef100_C5Y359</text></g>
<g transform="translate(0,2221.5)"><path class="g" d="M99-1.5H512v3H99z"/><use href="#t" x="99"/><use href="#ag"/><text x="527" y="3.5">UniRef100_C5XD24</text></g>
<g transform="translate(0,2232.5)"><path class="g" d="M68.5-1.5H512v3H68.5z"/><use href="#t" x="68.5"/><use href="#ag"/><text x="527" y="3.5">UniRef100_B8APG4</text></g>
<g transform="translate(0,2243.5)"><path class="g" d="M31.5-1.5H512v3H31.5z"/><use href="#t" x="31.5"/><use href="#ag"/><use href="#y" x="38.5"/><text x="527" y="3.5">UniRef100_A7QBY0</text></g>
<g transform="translate(0,2254.5)"><path class="g" d="M78.5-1.5H512v3H78.5z"/><use href="#t" x="78.5"/><use href="#ag"/><text x="527" y="3.5">UniRef100_Q9FX85</text></g>
<g transform="translate(0,2265.5)"><path class="g" d="M44.5-1.5H512v3H44.5z"/><use href="#t" x="44.5"/><use href="#ag"/><text x="527" y="3.5">UniRef100_Q0ZA68</text></g>
<g transform="translate(0,2276.5)"><path class="g" d="M44.5-1.5H512v3H44.5z"/><rect x="59" y="-1.5" width="2" height="3"/><rect class="g" x="59" y="-0.5" width="2" height="1"/><use href="#t" x="44.5"/><use href="#ag"/><text x="527" y="3.5">UniRef100_C6ETB5</text></g>
<g transform="translate(0,2287.5)"><path class="g" d="M41-1.5H512v3H41z"/><rect x="127" y="-1.5" width="5" height="3"/><rect class="g" x="127" y="-0.5" width="5" height="1"/><use href="#t" x="41"/><use href="#ag"/><text x="527" y="3.5">UniRef100_C5Z469</text></g>
<g transform="translate(0,2298.5)"><path class="g" d="M91.5-1.5H512v3H91.5z"/><use href="#t" x="91.5"/><use href="#ag"/><text x="527" y="3.5">UniRef100_C5YYA2</text></g>
<g transform="translate(0,2309.5)"><path class="g" d="M21-1.5H512v3H21z"/><rect x="37" y="-1.5" width="5" height="3"/><rect class="g" x="37" y="-0.5" width="5" height="1"/><use href="#t" x="21"/><use href="#ag"/><text x="527" y="3.5">UniRef100_C0PF45</text></g>
<g transform="translate(0,2320.5)"><path class="g" d="M104.5-1.5H512v3H104.5z"/><use href="#t" x="104.5"/><use href="#ag"/><text x="527" y="3.5">UniRef100_B9MXK6</text></g>
<g transform="translate(0,2331.5)"><path class="g" d="M81.5-1.5H512v3H81.5z"/><use href="#t" x="81.5"/><use href="#ag"/><text x="527" y="3.5">UniRef100_B6TU39</text></g>
<g transform="translate(0,2342.5)"><path class="g" d="M91.5-1.5H512v3H91.5z"/><use href="#t" x="91.5"/><use href="#ag"/><text x="527" y="3.5">UniRef100_B5U1R3</text></g>
<g transform="translate(0,2353.5)"><path class="g" d="M48-1.5H512v3H48z"/><use href="#t" x="48"/><use href="#ag"/><text x="527" y="3.5">UniRef100_B4FJX1</text></g>
<g transform="translate(0,2364.5)"><path class="g" d="M51.5-1.5H512v3H51.5z"/><use href="#t" x="51.5"/><use href="#ag"/><text x="527" y="3.5">UniRef100_Q7F1U1</text></g>
<g transform="translate(0,2375.5)"><path class="g" d="M68.5-1.5H512v3H68.5z"/><rect x="157.5" y="-1.5" width="2" height="3"/><rect class="g" x="157.5" y="-0.5" width="2" height="1"/><use href="#t" x="68.5"/><use href="#ag"/><text x="527" y="3.5">UniRef100_Q08IT2</text></g>
<g transform="translate(0,2386.5)"><path class="g" d="M51.5-1.5H512v3H51.5z"/><use href="#t" x="51.5"/><use href="#ag"/><text x="527" y="3.5">UniRef100_O22439</text></g>
<g transform="translate(0,2397.5)"><path class="g" d="M68.5-1.5H512v3H68.5z"/><use href="#t" x="68.5"/><use href="#ag"/><text x="527" y="3.5">UniRef100_B9S782</text></g>
<g transform="translate(0,2408.5)"><path class="g" d="M21-1.5H512v3H21z"/><use href="#t" x="21"/><use href="#ag"/><text x="527" y="3.5">UniRef100_B9RC49</text></g>
<g transform="translate(0,2419.5)"><path class="g" d="M101-1.5H512v3H101z"/><use href="#t" x="101"/><use href="#ag"/><text x="527" y="3.5">UniRef100_A2WR43</text></g>
<g transform="translate(0,2430.5)"><path class="g" d="M21-1.5H512v3H21z"/><rect x="40" y="-1.5" width="2" height="3"/><rect class="g" x="40" y="-0.5" width="2" height="1"/><use href="#t" x="21"/><use href="#ag"/><text x="527" y="3.5">UniRef100_A5H452</text></g>
<g transform="translate(0,2441.5)"><path class="g" d="M27.5-1.5H512v3H27.5z"/><use href="#t" x="27.5"/><use href="#ag"/><use href="#y" x="106.5"/><text x="527" y="3.5">UniRef100_Q5U1I4</text></g>
<g transform="translate(0,2452.5)"><path class="g" d="M44.5-1.5H512v3H44.5z"/><use href="#t" x="44.5"/><use href="#ag"/><use href="#y" x="56.5"/><text x="527" y="3.5">UniRef100_Q4W2V2</text></g>
<g transform="translate(0,2463.5)"><path class="g" d="M64.5-1.5H512v3H64.5z"/><use href="#t" x="64.5"/><use href="#ag"/><text x="527" y="3.5">UniRef100_Q0ZR63</text></g>
<g transform="translate(0,2474.5)"><path class="g" d="M68.5-1.5H512v3H68.5z"/><use href="#t" x="68.5"/><use href="#ag"/><text x="527" y="3.5">UniRef100_C5X5K3</text></g>
<g transform="translate(0,2485.5)"><path class="g" d="M31.5-1.5H512v3H31.5z"/><use href="#t" x="31.5"/><use href="#ag"/><text x="527" y="3.5">UniRef100_B4FA32</text></g>
<g transform="translate(0,2496.5)"><path class="g" d="M104.5-1.5H512v3H104.5z"/><use href="#t" x="104.5"/><use href="#ag"/><text x="527" y="3.5">UniRef100_A7J0U4</text></g>
<g transform="translate(0,2507.5)"><path class="g" d="M91.5-1.5H512v3H91.5z"/><use href="#t" x="91.5"/><use href="#ag"/><text x="527" y="3.5">UniRef100_Q5U1G3</text></g>
<g transform="translate(0,2518.5)"><path class="g" d="M104.5-1.5H512v3H104.5z"/><use href="#t" x="104.5"/><use href="#ag"/><text x="527" y="3.5">UniRef100_Q9LI45</text></g>
<g transform="translate(0,2529.5)"><path class="g" d="M99-1.5H512v3H99z"/><use href="#t" x="99"/><use href="#ag"/><text x="527" y="3.5">UniRef100_A7QBY3</text></g>
<g transform="translate(0,2540.5)"><path class="g" d="M64.5-1.5H512v3H64.5z"/><use href="#t" x="64.5"/><use href="#ag"/><use href="#y" x="78.5"/><text x="527" y="3.5">UniRef100_Q4W2V5</text></g>
<g transform="translate(0,2551.5)"><path class="g" d="M41-1.5H512v3H41z"/><rect x="139.5" y="-1.5" width="1.5" height="3"/><use href="#t" x="41"/><use href="#ag"/><text x="527" y="3.5">UniRef100_Q43055</text></g>
<g transform="translate(0,2562.5)"><path class="g" d="M41-1.5H512v3H41z"/><use href="#t" x="41"/><use href="#ag"/><text x="527" y="3.5">UniRef100_B6U6W0</text></g>
<g transform="translate(0,2573.5)"><path class="g" d="M64.5-1.5H512v3H64.5z"/><use href="#t" x="64.5"/><use href="#ag"/><text x="527" y="3.5">UniRef100_Q9FJZ9</text></g>
<g transform="translate(0,2584.5)"><path class="g" d="M25-1.5H512v3H25z"/><use href="#t" x="25"/><use href="#ag"/><text x="527" y="3.5">UniRef100_Q9MAX9</text></g>
<g transform="translate(0,2595.5)"><path class="g" d="M71.5-1.5H512v3H71.5z"/><use href="#t" x="71.5"/><use href="#ag"/><text x="527" y="3.5">UniRef100_Q7XMP4</text></g>
<g transform="translate(0,2606.5)"><path class="g" d="M48-1.5H512v3H48z"/><use href="#t" x="48"/><use href="#ag"/><text x="527" y="3.5">UniRef100_C5WVK2</text></g>
<g transform="translate(0,2617.5)"><path class="g" d="M104.5-1.5H512v3H104.5z"/><use href="#t" x="104.5"/><use href="#ag"/><use href="#y" x="172"/><text x="527" y="3.5">UniRef100_C0P3T3</text></g>
<g transform="translate(0,2628.5)"><path class="g" d="M68.5-1.5H512v3H68.5z"/><use href="#t" x="68.5"/><use href="#ag"/><text x="527" y="3.5">UniRef100_B6SRR3</text></g>
<g transform="translate(0,2639.5)"><path class="g" d="M88.5-1.5H512v3H88.5z"/><use href="#t" x="88.5"/><use href="#ag"/><text x="527" y="3.5">UniRef100_B4FK56</text></g>
<g transform="translate(0,2650.5)"><path class="g" d="M94.5-1.5H512v3H94.5z"/><use href="#t" x="94.5"/><use href="#ag"/><text x="527" y="3.5">UniRef100_Q4W2V3</text></g>
<g transform="translate(0,2661.5)"><path class="g" d="M94.5-1.5H468.5v3H94.5z"/><use href="#t" x="94.5"/><polygon points="468.5,-4.5 474.5,0 468.5,4.5" fill="#00a000"/><use href="#t" x="468.5"/><text x="527" y="3.5">UniRef100_Q0E2I2</text></g>
<g transform="translate(0,2672.5)"><path class="g" d="M27.5-1.5H512v3H27.5z"/><rect x="42" y="-1.5" width="4" height="3"/><rect class="g" x="42" y="-0.5" width="4" height="1"/><use href="#t" x="27.5"/><use href="#ag"/><text x="527" y="3.5">UniRef100_C6THF9</text></g>
<g transform="translate(0,2683.5)"><path class="g" d="M41-1.5H512v3H41z"/><rect x="127" y="-1.5" width="5" height="3"/><rect class="g" x="127" y="-0.5" width="5" height="1"/><use href="#t" x="41"/><use href="#ag"/><text x="527" y="3.5">UniRef100_C5Z470</text></g>
<g transform="translate(0,2694.5)"><path class="g" d="M48-1.5H512v3H48z"/><use href="#t" x="48"/><use href="#ag"/><text x="527" y="3.5">UniRef100_C5YY93</text></g>
<g transform="translate(0,2705.5)"><path class="g" d="M71.5-1.5H512v3H71.5z"/><use href="#t" x="71.5"/><use href="#ag"/><text x="527" y="3.5">UniRef100_B9S799</text></g>
<g transform="translate(0,2716.5)"><path class="g" d="M68.5-1.5H512v3H68.5z"/><use href="#t" x="68.5"/><use href="#ag"/><text x="527" y="3.5">UniRef100_B9HL06</text></g>
<g transform="translate(0,2727.5)"><path class="g" d="M104.5-1.5H512v3H104.5z"/><use href="#t" x="104.5"/><use href="#ag"/><text x="527" y="3.5">UniRef100_B6U5G5</text></g>
<g transform="translate(0,2738.5)"><path class="g" d="M101-1.5H512v3H101z"/><use href="#t" x="101"/><use href="#ag"/><text x="527" y="3.5">UniRef100_P00434</text></g>
<g transform="translate(0,2749.5)"><path class="g" d="M68.5-1.5H512v3H68.5z"/><use href="#t" x="68.5"/><use href="#ag"/><text x="527" y="3.5">UniRef100_Q9M9Q9</text></g>
<g transform="translate(0,2760.5)"><path class="g" d="M91.5-1.5H512v3H91.5z"/><use href="#t" x="91.5"/><use href="#ag"/><text x="527" y="3.5">UniRef100_Q84ZT6</text></g>
<g transform="translate(0,2771.5)"><path class="g" d="M51.5-1.5H512v3H51.5z"/><rect x="131" y="-1.5" width="7" height="3"/><rect class="g" x="131" y="-0.5" width="7" height="1"/><use href="#t" x="51.5"/><use href="#ag"/><text x="527" y="3.5">UniRef100_Q5I3F7</text></g>
<g transform="translate(0,2782.5)"><path class="g" d="M14.5-1.5H512v3H14.5z"/><rect x="29.5" y="-1.5" width="5" height="3"/><rect class="g" x="29.5" y="-0.5" width="5" height="1"/><use href="#t" x="14.5"/><use href="#ag"/><text x="527" y="3.5">UniRef100_Q5I3F2</text></g>
<g transform="translate(0,2793.5)"><path class="g" d="M14.5-1.5H512v3H14.5z"/><rect x="32" y="-1.5" width="9" height="3"/><rect class="g" x="32" y="-0.5" width="9" height="1"/><rect x="109" y="-1.5" width="5" height="3"/><rect class="g" x="109" y="-0.5" width="5" height="1"/><use href="#t" x="14.5"/><use href="#ag"/><text x="527" y="3.5">UniRef100_C6THS5</text></g>
</g>
<!-- end white line -->
<rect x="512" y="60" width="1" height="2596" fill="#fff"/>
<rect x="512" y="2667" width="1" height="132" fill="#fff"/>
<!-- legend -->
<text class="sm" x="9" y="2814">Large gaps:</text>
<path d="M80,2810.5h3v3h-3zM80.5,2809h2v1.5h-2z" fill="#ffff66"/>
<text class="sm" x="86" y="2814">(in Query)/</text>
<rect x="155" y="2810.5" width="5" height="1" fill="#00c0c0"/>
<text class="sm" x="165" y="2814">(in Subject)</text>
<rect x="439" y="2809.5" width="17" height="3" fill="#00c0c0"/>
<text class="sm" x="459" y="2814">=100char.</text>
</svg>
</body></html>
